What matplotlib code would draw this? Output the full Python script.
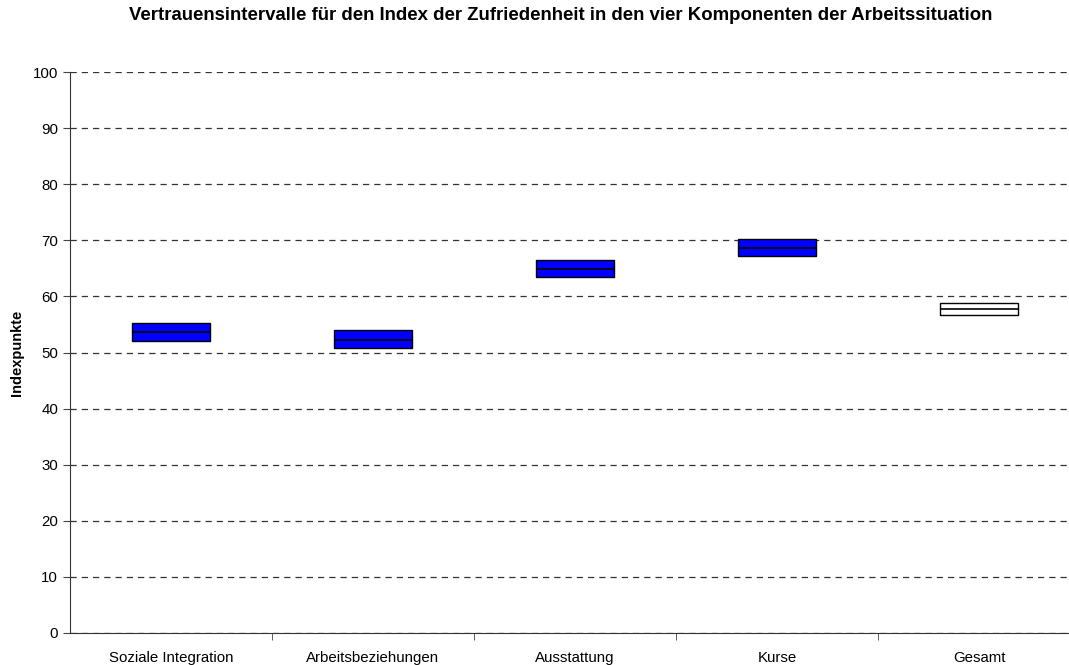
import matplotlib
matplotlib.use("Agg")
import matplotlib.pyplot as plt
import numpy as np

plt.rcParams['font.family'] = ['Liberation Sans', 'DejaVu Sans']

# Konfidenzintervalle (untere Grenze, Mittelwert, obere Grenze)
categories = ["Soziale Integration", "Arbeitsbeziehungen", "Ausstattung", "Kurse", "Gesamt"]
lower = [52.1, 50.8, 63.4, 67.2, 56.7]
mean = [53.6, 52.2, 64.8, 68.6, 57.8]
upper = [55.3, 54.0, 66.4, 70.2, 58.9]
colors = ["#0000ff", "#0000ff", "#0000ff", "#0000ff", "#ffffff"]
yticks = list(range(0, 101, 10))

fig = plt.figure(figsize=(10.69, 6.65), dpi=100)
ax = fig.add_axes([70 / 1069, 32 / 665, 1010 / 1069, 561 / 665])

x = np.arange(len(categories))
heights = [u - l for u, l in zip(upper, lower)]
ax.bar(x, heights, bottom=lower, width=0.39, color=colors,
       edgecolor="black", linewidth=1.0, zorder=3)
ax.hlines(mean, x - 0.195, x + 0.195, colors="black", linewidth=1.2, zorder=4)

ax.set_xlim(-0.5, len(categories) - 0.5)
ax.set_ylim(0, 100)
ax.set_yticks(yticks)
ax.set_xticks(x)
ax.set_xticklabels(categories, fontsize=10.8)
ax.set_xticks(np.arange(0.5, len(categories) - 0.5, 1), minor=True)
ax.tick_params(axis="x", which="major", length=0, pad=13)
ax.tick_params(axis="x", which="minor", length=5, direction="out", color="#444444")
ax.tick_params(axis="y", length=5, direction="out", labelsize=10.8, color="#444444")
ax.yaxis.grid(True, linestyle=(0, (5, 4)), color="#333333", linewidth=0.9, zorder=0)
ax.set_axisbelow(True)

for s in ["top", "right"]:
    ax.spines[s].set_visible(False)
for s in ["left", "bottom"]:
    ax.spines[s].set_color("#333333")

ax.set_ylabel("Indexpunkte", fontsize=10.5, fontweight="bold", labelpad=6)
fig.text(561 / 1069, 1 - 16 / 665, "Vertrauensintervalle für den Index der Zufriedenheit in den vier Komponenten der Arbeitssituation",
         ha="center", va="center", fontsize=13.4, fontweight="bold")

fig.savefig("out.png", dpi=100)
